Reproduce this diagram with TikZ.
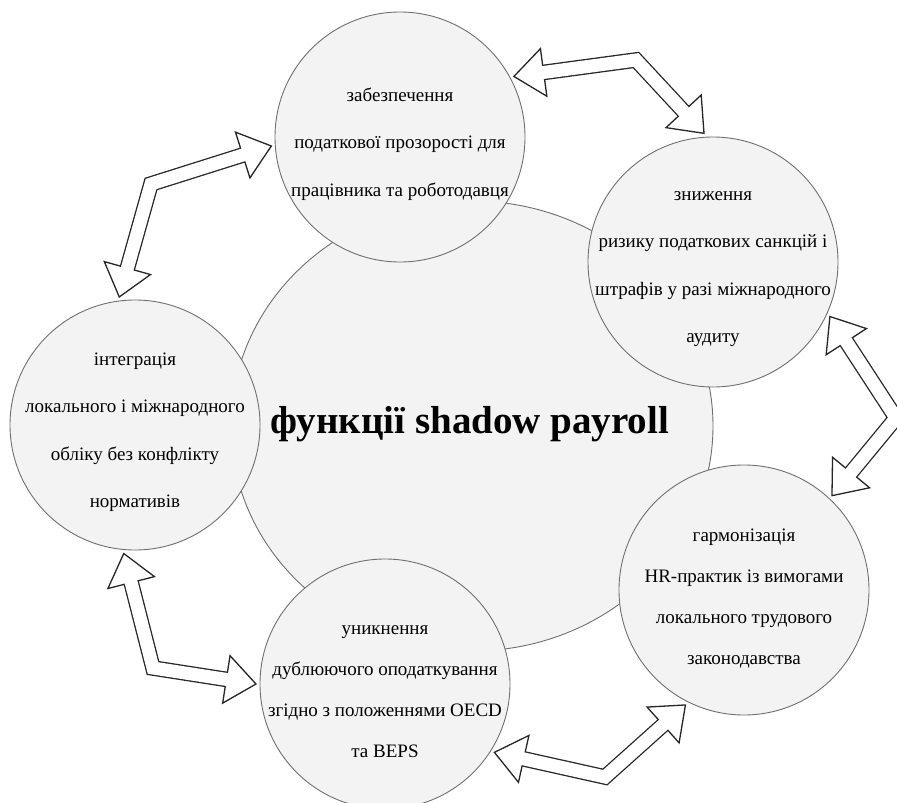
\documentclass[tikz,border=0pt]{standalone}
\usepackage{fontspec}
\setmainfont{Liberation Serif}
\usetikzlibrary{calc,shapes.geometric}
\definecolor{circfill}{HTML}{F3F3F3}
\definecolor{circline}{HTML}{707070}
\newcommand\arrHL{30pt}
\newcommand\arrHW{24pt}
\newcommand\dblarrow[3]{%
  \coordinate (#1b) at ($(#1)!\arrHL!(#2)$);
  \coordinate (#1l) at ($(#1b)!\arrHW!90:(#1)$);
  \coordinate (#1r) at ($(#1b)!\arrHW!-90:(#1)$);
  \coordinate (#3b) at ($(#3)!\arrHL!(#2)$);
  \coordinate (#3l) at ($(#3b)!\arrHW!90:(#3)$);
  \coordinate (#3r) at ($(#3b)!\arrHW!-90:(#3)$);
  \draw[arrowline] (#1)--(#1l)--(#1r)--cycle;
  \draw[arrowline] (#3)--(#3l)--(#3r)--cycle;
  \draw[line width=15.6pt, black!85, line join=miter, shorten <=\arrHL, shorten >=\arrHL] (#1)--(#2)--(#3);
  \draw[line width=13pt, white, line join=miter, shorten <=28pt, shorten >=28pt] (#1)--(#2)--(#3);
}
\tikzset{
  smallcirc/.style={circle, draw=circline, fill=circfill, line width=0.9pt, minimum size=250pt, inner sep=0pt, outer sep=4pt},
  maincirc/.style={ellipse, draw=circline, fill=circfill, line width=0.9pt, minimum width=482pt, minimum height=450pt, inner sep=0pt},
  circtext/.style={align=center, font=\fontsize{19}{47.5}\selectfont, inner sep=0pt},
  circtextb/.style={align=center, font=\fontsize{19}{41}\selectfont, inner sep=0pt},
  arrowline/.style={draw=black!85, line width=1.3pt, fill=white, line join=miter},
}
\begin{document}
\begin{tikzpicture}[x=1pt,y=-1pt]
\useasboundingbox (0,0) rectangle (897,803);
\fill[white] (0,0) rectangle (897,803);
\node[maincirc] (main) at (472,426) {};
\node[font=\fontsize{39}{44}\selectfont\bfseries] (title) at (470,424) {функції shadow payroll};
\node[smallcirc] (top) at (400,137) {};
\node[smallcirc] (rtop) at (713,262) {};
\node[smallcirc] (rbot) at (744,590) {};
\node[smallcirc] (bot) at (385,684) {};
\node[smallcirc] (left) at (135,425) {};
\node[circtext] (ttop) at (400,144) {забезпечення\\податкової прозорості для\\працівника та роботодавця};
\node[circtext] (trtop) at (713,269) {зниження\\ризику податкових санкцій і\\штрафів у разі міжнародного\\аудиту};
\node[circtext] (tleft) at (135,432) {інтеграція\\локального і міжнародного\\обліку без конфлікту\\нормативів};
\node[circtextb] (tbot) at (385,692) {уникнення\\дублюючого оподаткування\\згідно з положеннями OECD\\та BEPS};
\node[circtextb] (trbot) at (744,599) {гармонізація\\HR-практик із вимогами\\локального трудового\\законодавства};
% arrows
\coordinate (a1) at (top.184);
\coordinate (a2) at (151,184);
\coordinate (a3) at (left.97);
\dblarrow{a1}{a2}{a3}
\coordinate (b1) at (top.28);
\coordinate (b2) at (636,60);
\coordinate (b3) at (rtop.94);
\dblarrow{b1}{b2}{b3}
\coordinate (c1) at (rtop.335);
\coordinate (c2) at (896,418);
\coordinate (c3) at (rbot.47);
\dblarrow{c1}{c2}{c3}
\coordinate (d1) at (rbot.243);
\coordinate (d2) at (605,777);
\coordinate (d3) at (bot.328);
\dblarrow{d1}{d2}{d3}
\coordinate (e1) at (left.265);
\coordinate (e2) at (153,668);
\coordinate (e3) at (bot.180);
\dblarrow{e1}{e2}{e3}
\end{tikzpicture}
\end{document}
